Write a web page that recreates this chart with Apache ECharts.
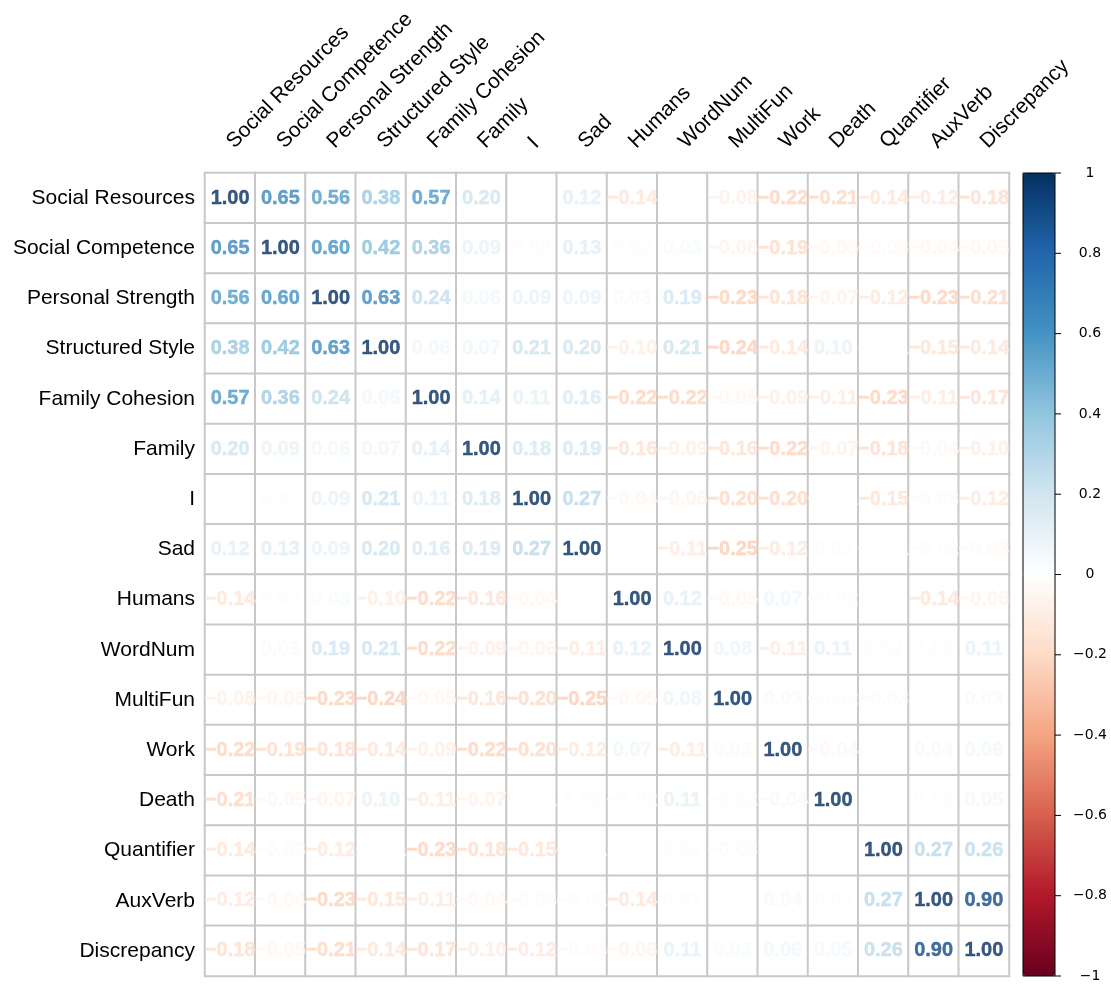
<!DOCTYPE html>
<html><head><meta charset="utf-8">
<script src="https://cdn.jsdelivr.net/npm/echarts@6/dist/echarts.min.js"></script>
<style>html,body{margin:0;padding:0;background:#fff}#c{width:1111px;height:985px}</style>
</head><body><div id="c"></div><script>
const variables = ['Social Resources','Social Competence','Personal Strength','Structured Style','Family Cohesion','Family','I','Sad','Humans','WordNum','MultiFun','Work','Death','Quantifier','AuxVerb','Discrepancy'];

const rSocialResources  = [1.00, 0.65, 0.56, 0.38, 0.57, 0.20, 0.00, 0.12,-0.14, 0.01,-0.08,-0.22,-0.21,-0.14,-0.12,-0.18];
const rSocialCompetence = [0.65, 1.00, 0.60, 0.42, 0.36, 0.09, 0.02, 0.13, 0.02, 0.03,-0.06,-0.19,-0.05,-0.03,-0.04,-0.05];
const rPersonalStrength = [0.56, 0.60, 1.00, 0.63, 0.24, 0.06, 0.09, 0.09, 0.03, 0.19,-0.23,-0.18,-0.07,-0.12,-0.23,-0.21];
const rStructuredStyle  = [0.38, 0.42, 0.63, 1.00, 0.06, 0.07, 0.21, 0.20,-0.10, 0.21,-0.24,-0.14, 0.10,-0.01,-0.15,-0.14];
const rFamilyCohesion   = [0.57, 0.36, 0.24, 0.06, 1.00, 0.14, 0.11, 0.16,-0.22,-0.22,-0.05,-0.09,-0.11,-0.23,-0.11,-0.17];
const rFamily           = [0.20, 0.09, 0.06, 0.07, 0.14, 1.00, 0.18, 0.19,-0.16,-0.09,-0.16,-0.22,-0.07,-0.18,-0.04,-0.10];
const rI                = [0.00, 0.02, 0.09, 0.21, 0.11, 0.18, 1.00, 0.27,-0.04,-0.06,-0.20,-0.20,-0.01,-0.15,-0.03,-0.12];
const rSad              = [0.12, 0.13, 0.09, 0.20, 0.16, 0.19, 0.27, 1.00, 0.01,-0.11,-0.25,-0.12, 0.02,-0.01,-0.02,-0.03];
const rHumans           = [-0.14,0.02, 0.03,-0.10,-0.22,-0.16,-0.04, 0.01, 1.00, 0.12,-0.05, 0.07,-0.02, 0.01,-0.14,-0.06];
const rWordNum          = [0.01, 0.03, 0.19, 0.21,-0.22,-0.09,-0.06,-0.11, 0.12, 1.00, 0.08,-0.11, 0.11, 0.02, 0.02, 0.11];
const rMultiFun         = [-0.08,-0.06,-0.23,-0.24,-0.05,-0.16,-0.20,-0.25,-0.05, 0.08, 1.00, 0.03,-0.02,-0.03, 0.01, 0.03];
const rWork             = [-0.22,-0.19,-0.18,-0.14,-0.09,-0.22,-0.20,-0.12, 0.07,-0.11, 0.03, 1.00,-0.04, 0.00, 0.04, 0.06];
const rDeath            = [-0.21,-0.05,-0.07, 0.10,-0.11,-0.07,-0.01, 0.02,-0.02, 0.11,-0.02,-0.04, 1.00, 0.01, 0.02, 0.05];
const rQuantifier       = [-0.14,-0.03,-0.12,-0.01,-0.23,-0.18,-0.15,-0.01, 0.01, 0.02,-0.03, 0.00, 0.01, 1.00, 0.27, 0.26];
const rAuxVerb          = [-0.12,-0.04,-0.23,-0.15,-0.11,-0.04,-0.03,-0.02,-0.14, 0.02, 0.01, 0.04, 0.02, 0.27, 1.00, 0.90];
const rDiscrepancy      = [-0.18,-0.05,-0.21,-0.14,-0.17,-0.10,-0.12,-0.03,-0.06, 0.11, 0.03, 0.06, 0.05, 0.26, 0.90, 1.00];

const corrRows = [rSocialResources,rSocialCompetence,rPersonalStrength,rStructuredStyle,rFamilyCohesion,rFamily,rI,rSad,rHumans,rWordNum,rMultiFun,rWork,rDeath,rQuantifier,rAuxVerb,rDiscrepancy];

const colorbarMin = -1, colorbarMax = 1, colorbarStep = 0.2;

const palette = ['#67001F','#B2182B','#D6604D','#F4A582','#FDDBC7','#FFFFFF','#D1E5F0','#92C5DE','#4393C3','#2166AC','#053061'];

function hex2rgb(h){h=h.replace('#','');return [parseInt(h.substr(0,2),16),parseInt(h.substr(2,2),16),parseInt(h.substr(4,2),16)];}
function colorFor(v){
  const n = palette.length - 1;
  const t = Math.max(0, Math.min(1, (v - colorbarMin) / (colorbarMax - colorbarMin))) * n;
  const i = Math.min(n - 1, Math.floor(t));
  const f = t - i;
  const a = hex2rgb(palette[i]), b = hex2rgb(palette[i+1]);
  return 'rgb(' + a.map((x,k)=>Math.round(x + (b[k]-x)*f)).join(',') + ')';
}
function fmtNum(v){ return v.toFixed(2).replace('-', '\u2212'); }
function fmtTick(v){
  let s;
  if (Math.abs(v) < 1e-9) s = '0';
  else if (Math.abs(Math.abs(v) - 1) < 1e-9) s = String(Math.round(v));
  else s = v.toFixed(1);
  return '{tk|}{sp|}{num|' + s.replace('-', '\u2212') + '}';
}

const cells = [], nums = [];
corrRows.forEach((row, r) => row.forEach((v, c) => {
  cells.push([c, r, v]);
  const col = colorFor(v);
  nums.push({ value: [c, r, v], label: { color: col, textBorderColor: col } });
}));

const chart = echarts.init(document.getElementById('c'), null, {renderer: 'canvas'});
chart.setOption({
  animation: false,
  backgroundColor: '#ffffff',
  grid: [
    {left: 205, top: 173, width: 804, height: 803},
    {left: 1023, top: 173, width: 32, height: 803, show: true, borderColor: '#000', borderWidth: 1, backgroundColor: 'transparent', z: 10}
  ],
  xAxis: [
    {type: 'category', gridIndex: 0, data: variables, position: 'top',
     axisLine: {show: false}, axisTick: {show: false}, splitLine: {show: false},
     axisLabel: {interval: 0, rotate: -45, fontSize: 21, fontFamily: 'Liberation Sans, Arial, sans-serif', color: '#000', margin: 28}},
    {type: 'value', gridIndex: 1, show: false, min: 0, max: 1}
  ],
  yAxis: [
    {type: 'category', gridIndex: 0, data: variables, inverse: true,
     axisLine: {show: false}, axisTick: {show: false}, splitLine: {show: false},
     axisLabel: {interval: 0, fontSize: 21, fontFamily: 'Liberation Sans, Arial, sans-serif', color: '#000', margin: 10}},
    {type: 'value', gridIndex: 1, position: 'right', min: colorbarMin, max: colorbarMax, interval: colorbarStep,
     axisLine: {show: false, onZero: false}, splitLine: {show: false}, axisTick: {show: false},
     axisLabel: {formatter: fmtTick, margin: 0, align: 'left', color: '#000',
       rich: {
         tk: {width: 6, height: 1, backgroundColor: '#000'},
         sp: {width: 9, height: 1},
         num: {width: 40, align: 'center', fontFamily: 'DejaVu Sans, sans-serif', fontSize: 14, color: '#000'}
       }}}
  ],
  visualMap: {
    type: 'continuous', min: colorbarMin, max: colorbarMax, seriesIndex: 1, dimension: 2,
    calculable: false, show: true, left: 1023, top: 173, itemWidth: 32, itemHeight: 803,
    padding: 0, text: null, showLabel: false, orient: 'vertical', z: 2,
    inRange: {color: palette}
  },
  series: [
    {type: 'heatmap', xAxisIndex: 0, yAxisIndex: 0, data: cells,
     itemStyle: {color: '#ffffff', borderColor: '#c8c8c8', borderWidth: 2},
     label: {show: false}, emphasis: {disabled: true}, silent: true},
    {type: 'scatter', xAxisIndex: 0, yAxisIndex: 0, data: nums, symbolSize: 0, silent: true,
     label: {show: true, position: 'inside', formatter: p => fmtNum(p.value[2]),
             fontSize: 20, fontWeight: 'bold', fontFamily: 'Liberation Sans, Arial, sans-serif',
             textBorderWidth: 0.4},
     z: 5}
  ]
});
</script></body></html>
